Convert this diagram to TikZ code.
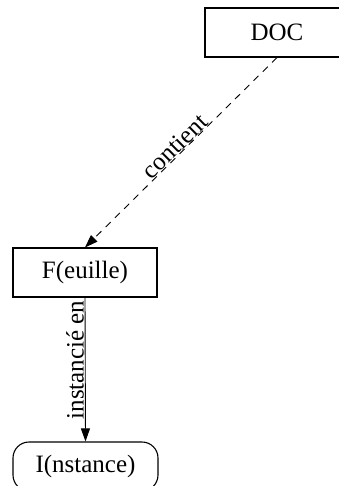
\documentclass[tikz,border=0pt]{standalone}
\usepackage{fontspec}
\setmainfont{Liberation Serif}
\usetikzlibrary{arrows.meta}
\begin{document}
\begin{tikzpicture}[x=1pt,y=-1pt,
  box/.style={draw,line width=1.1pt,inner sep=0pt},
  conn/.style={line width=0.9pt,-{Triangle[length=13pt,width=9pt]}},
  lbl/.style={font=\fontsize{25}{30}\selectfont,inner sep=1pt}]
\useasboundingbox (0,0) rectangle (339,486);
\node[box,minimum width=144pt,minimum height=49pt,font=\fontsize{25}{30}\selectfont] (doc) at (277,32.5) {DOC};
\node[box,minimum width=144pt,minimum height=49pt,font=\fontsize{25}{30}\selectfont] (f) at (85,272.5) {F(euille)};
\node[box,rounded corners=16pt,minimum width=145pt,minimum height=49pt,font=\fontsize{25}{30}\selectfont] (i) at (85.5,466.5) {I(nstance)};
\draw[conn,dash pattern=on 7pt off 6pt] (doc.south) -- (f.north)
  node[lbl,pos=0.5,sloped,above,inner sep=0pt] (c) {contient};
\draw[conn] (f.south) -- (i.north);
\node[lbl,rotate=90,anchor=south,inner sep=1pt] (ie) at (85,360) {instancié en};
\end{tikzpicture}
\end{document}
